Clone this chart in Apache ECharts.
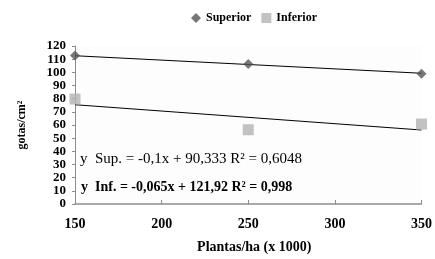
<!DOCTYPE html>
<html>
<head>
<meta charset="utf-8">
<script src="https://cdn.jsdelivr.net/npm/echarts@6/dist/echarts.min.js"></script>
<style>
  html, body { margin: 0; padding: 0; background: #fff; }
  #chart { width: 435px; height: 259px; }
</style>
</head>
<body>
<div id="chart"></div>
<script>
// plantas/ha (x 1000)
const plantas = [150, 250, 350];
// gotas/cm²
const superior = [112.8, 106.3, 99.0];
const inferior = [79.7, 56.4, 60.7];
// trend line ends at x = 150 and x = 350
const trendX = [150, 350];
const superiorTrend = [112.6, 99.3];
const inferiorTrend = [75.4, 56.2];
const eqLabels = [
  "y  Sup. = -0,1x + 90,333 R² = 0,6048",
  "y  Inf. = -0,065x + 121,92 R² = 0,998"
];

const font = "'Liberation Serif', 'DejaVu Serif', serif";
const pairs = (xs, ys) => xs.map((x, i) => [x, ys[i]]);

const chart = echarts.init(document.getElementById("chart"));
chart.setOption({
  animation: false,
  textStyle: { fontFamily: font },
  legend: {
    top: 7,
    left: 186,
    itemWidth: 10,
    itemHeight: 10,
    itemGap: 10,
    textStyle: { fontFamily: font, fontWeight: "bold", fontSize: 12, color: "#000" },
    data: [
      { name: "Superior", icon: "diamond", itemStyle: { color: "#555" } },
      { name: "Inferior", icon: "rect", itemStyle: { color: "#b3b3b3" } }
    ]
  },
  grid: {
    left: 75, right: 12, top: 46, bottom: 47,
    show: true, backgroundColor: "#fdfdfd", borderWidth: 0
  },
  xAxis: {
    type: "value",
    min: 150, max: 350, interval: 50,
    name: "Plantas/ha (x 1000)",
    nameLocation: "middle",
    nameGap: 36,
    nameTextStyle: { fontFamily: font, fontWeight: "bold", fontSize: 14, color: "#000", padding: [0, 0, 0, 12] },
    axisLine: { lineStyle: { color: "#8c8c8c", width: 1.5 } },
    axisTick: { inside: true, length: 4, lineStyle: { color: "#8c8c8c" } },
    axisLabel: { margin: 13, fontFamily: font, fontWeight: "bold", fontSize: 14, color: "#000" },
    splitLine: { show: false }
  },
  yAxis: {
    type: "value",
    min: 0, max: 120, interval: 10,
    name: "gotas/cm²",
    nameLocation: "middle",
    nameGap: 47,
    nameTextStyle: { fontFamily: font, fontWeight: "bold", fontSize: 12, color: "#000" },
    axisLine: { show: true, lineStyle: { color: "#8c8c8c", width: 1 } },
    axisTick: { show: true, length: 3, lineStyle: { color: "#8c8c8c" } },
    axisLabel: {
      margin: 9, fontFamily: font, fontWeight: "bold", fontSize: 13,
      color: "#000", interval: 0, showMinLabel: true, showMaxLabel: true
    },
    splitLine: { show: false }
  },
  series: [
    {
      name: "Superior trend",
      type: "line",
      data: pairs(trendX, superiorTrend),
      symbol: "none",
      lineStyle: { color: "#000", width: 1 },
      silent: true,
      z: 1
    },
    {
      name: "Inferior trend",
      type: "line",
      data: pairs(trendX, inferiorTrend),
      symbol: "none",
      lineStyle: { color: "#000", width: 1 },
      silent: true,
      z: 1
    },
    {
      name: "Superior",
      type: "scatter",
      data: pairs(plantas, superior),
      symbol: "diamond",
      symbolSize: 10,
      itemStyle: { color: "#555" },
      z: 3
    },
    {
      name: "Inferior",
      type: "scatter",
      data: pairs(plantas, inferior),
      symbol: "rect",
      symbolSize: 11,
      itemStyle: { color: "#b3b3b3" },
      z: 3
    }
  ],
  graphic: [
    {
      type: "text", left: 80, top: 152,
      style: { text: eqLabels[0], font: "15px " + font, fill: "#000" }
    },
    {
      type: "text", left: 81, top: 180,
      style: { text: eqLabels[1], font: "bold 14px " + font, fill: "#000" }
    }
  ]
});
</script>
</body>
</html>
